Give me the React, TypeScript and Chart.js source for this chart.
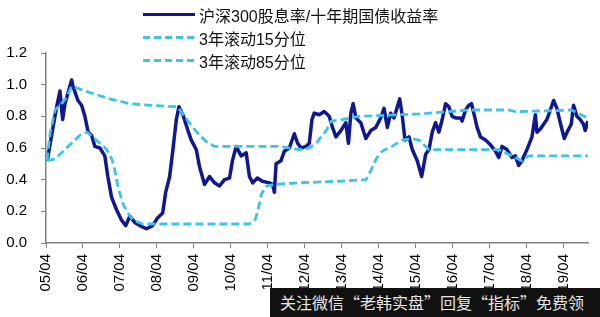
import React, { useEffect, useRef } from "react";
import { Chart, registerables } from "chart.js";

Chart.register(...registerables);

// ---- data (decimal years, values) ----
const mainYears = [
  2005.285, 2005.439, 2005.538, 2005.627, 2005.7, 2005.762, 2005.943, 2005.978, 2006.113, 2006.212,
  2006.301, 2006.39, 2006.482, 2006.571, 2006.706, 2006.84, 2006.921, 2007.021, 2007.156, 2007.29,
  2007.406, 2007.514, 2007.649, 2007.784, 2007.964, 2008.134, 2008.269, 2008.404, 2008.484, 2008.592,
  2008.681, 2008.773, 2008.843, 2008.951, 2009.086, 2009.177, 2009.312, 2009.401, 2009.536, 2009.671,
  2009.805, 2009.94, 2010.075, 2010.21, 2010.29, 2010.39, 2010.525, 2010.66, 2010.749, 2010.838,
  2010.964, 2011.099, 2011.288, 2011.377, 2011.423, 2011.468, 2011.603, 2011.692, 2011.827, 2011.962,
  2012.051, 2012.142, 2012.277, 2012.366, 2012.439, 2012.501, 2012.636, 2012.77, 2012.905, 2012.994,
  2013.086, 2013.22, 2013.355, 2013.425, 2013.49, 2013.552, 2013.625, 2013.759, 2013.894, 2014.029,
  2014.164, 2014.298, 2014.387, 2014.476, 2014.568, 2014.657, 2014.746, 2014.811, 2014.881, 2014.954,
  2015.062, 2015.15, 2015.285, 2015.404, 2015.512, 2015.601, 2015.69, 2015.781, 2015.87, 2015.959,
  2016.051, 2016.14, 2016.228, 2016.32, 2016.455, 2016.498, 2016.59, 2016.679, 2016.751, 2016.813,
  2016.902, 2016.994, 2017.129, 2017.263, 2017.398, 2017.487, 2017.576, 2017.711, 2017.846, 2017.937,
  2018.026, 2018.115, 2018.25, 2018.385, 2018.477, 2018.52, 2018.611, 2018.7, 2018.789, 2018.881,
  2018.97, 2019.059, 2019.15, 2019.258, 2019.355, 2019.447, 2019.509, 2019.598, 2019.689, 2019.778,
  2019.824, 2019.894,
];
const mainValues = [
  0.52, 0.73, 0.86, 0.96, 0.78, 0.88, 1.03, 0.99, 0.9, 0.87,
  0.8, 0.7, 0.68, 0.61, 0.6, 0.55, 0.42, 0.29, 0.21, 0.145,
  0.11, 0.17, 0.13, 0.11, 0.09, 0.11, 0.16, 0.19, 0.32, 0.42,
  0.59, 0.78, 0.86, 0.81, 0.71, 0.65, 0.59, 0.48, 0.37, 0.42,
  0.38, 0.36, 0.4, 0.41, 0.52, 0.61, 0.55, 0.57, 0.42, 0.38,
  0.41, 0.39, 0.38, 0.37, 0.32, 0.5, 0.52, 0.58, 0.6, 0.69,
  0.63, 0.6, 0.61, 0.63, 0.78, 0.82, 0.81, 0.83, 0.8, 0.73,
  0.67, 0.71, 0.76, 0.63, 0.82, 0.88, 0.79, 0.76, 0.66, 0.71,
  0.73, 0.79, 0.85, 0.73, 0.82, 0.79, 0.86, 0.91, 0.8, 0.65,
  0.67, 0.59, 0.52, 0.42, 0.56, 0.59, 0.7, 0.76, 0.7, 0.78,
  0.88, 0.86, 0.8, 0.79, 0.79, 0.77, 0.84, 0.87, 0.88, 0.82,
  0.73, 0.67, 0.65, 0.62, 0.58, 0.54, 0.61, 0.59, 0.54, 0.55,
  0.49, 0.52, 0.59, 0.67, 0.81, 0.7, 0.72, 0.75, 0.78, 0.84,
  0.9, 0.85, 0.76, 0.66, 0.71, 0.75, 0.87, 0.8, 0.78, 0.75,
  0.71, 0.77,
];

const p15Years = [
  2005.277, 2005.493, 2005.627, 2005.808, 2006.166, 2006.355, 2006.517, 2006.894, 2007.029, 2007.11,
  2007.191, 2007.325, 2007.46, 2007.595, 2007.865, 2010.749, 2010.911, 2010.991, 2011.072, 2011.207,
  2011.423, 2012.096, 2013.174, 2013.902, 2014.037, 2014.172, 2014.333, 2014.603, 2014.873, 2015.142,
  2015.331, 2015.466, 2015.601, 2017.487, 2017.757, 2018.108, 2018.296, 2019.914,
];
const p15Values = [
  0.52, 0.53, 0.56, 0.6, 0.68, 0.7, 0.67, 0.59, 0.53, 0.46,
  0.36, 0.25, 0.19, 0.145, 0.12, 0.12, 0.15, 0.22, 0.31, 0.36,
  0.37, 0.38, 0.39, 0.4, 0.46, 0.53, 0.58, 0.61, 0.65, 0.66,
  0.65, 0.62, 0.59, 0.59, 0.56, 0.52, 0.55, 0.55,
];

const p85Years = [
  2005.277, 2005.358, 2005.493, 2005.627, 2005.808, 2005.943, 2006.436, 2006.975, 2007.514, 2008.053,
  2008.808, 2008.997, 2009.185, 2009.401, 2009.59, 2009.806, 2011.557, 2012.096, 2012.366, 2012.555,
  2012.824, 2012.959, 2013.256, 2013.714, 2015.331, 2016.679, 2017.757, 2017.946, 2018.835, 2019.455,
  2019.886,
];
const p85Values = [
  0.52, 0.69, 0.84, 0.87, 0.92, 0.99, 0.95, 0.91, 0.88, 0.87,
  0.86, 0.8, 0.74, 0.68, 0.64, 0.61, 0.61, 0.59, 0.6, 0.63,
  0.71, 0.77, 0.78, 0.8, 0.815, 0.84, 0.84, 0.83, 0.835, 0.84,
  0.79,
];

const tickYears = [2005.25, 2006.25, 2007.25, 2008.25, 2009.25, 2010.25, 2011.25, 2012.25, 2013.25, 2014.25, 2015.25, 2016.25, 2017.25, 2018.25, 2019.25];
const tickLabels = ["05/04", "06/04", "07/04", "08/04", "09/04", "10/04", "11/04", "12/04", "13/04", "14/04", "15/04", "16/04", "17/04", "18/04", "19/04"];

const seriesLabels = ["沪深300股息率/十年期国债收益率", "3年滚动15分位", "3年滚动85分位"];
const MAIN_COLOR = "#0f1890";
const DASH_COLOR = "#3cc3ec";
const watermark = "关注微信“老韩实盘”回复“指标”免费领";

const pts = (xs: number[], ys: number[]) => xs.map((x, i) => ({ x, y: ys[i] }));

export default function App() {
  const ref = useRef<HTMLCanvasElement | null>(null);

  useEffect(() => {
    if (!ref.current) return;
    const font = { family: "'Liberation Sans', Arial, sans-serif", size: 15 };
    const chart = new Chart(ref.current, {
      type: "line",
      data: {
        datasets: [
          {
            label: seriesLabels[0],
            data: pts(mainYears, mainValues),
            borderColor: MAIN_COLOR,
            borderWidth: 3.5,
            order: 3,
          },
          {
            label: seriesLabels[1],
            data: pts(p15Years, p15Values),
            borderColor: DASH_COLOR,
            borderWidth: 2.8,
            borderDash: [8, 4],
            order: 2,
          },
          {
            label: seriesLabels[2],
            data: pts(p85Years, p85Values),
            borderColor: DASH_COLOR,
            borderWidth: 2.8,
            borderDash: [8, 4],
            order: 1,
          },
        ],
      },
      options: {
        animation: false,
        responsive: false,
        maintainAspectRatio: false,
        events: [],
        elements: { point: { radius: 0 }, line: { tension: 0, borderJoinStyle: "round" } },
        layout: { padding: { top: 53, right: 12, left: 0, bottom: 0 } },
        plugins: { legend: { display: false }, tooltip: { enabled: false }, title: { display: false } },
        scales: {
          x: {
            type: "linear",
            min: 2005.25,
            max: 2019.9,
            afterBuildTicks: (scale: any) => {
              scale.ticks = tickYears.map((v) => ({ value: v }));
            },
            afterFit: (scale: any) => {
              scale.height = 74;
            },
            ticks: {
              autoSkip: false,
              maxRotation: 90,
              minRotation: 90,
              padding: 6,
              color: "#000",
              font,
              callback: (_v: any, i: number) => tickLabels[i],
            },
            grid: { display: true, drawOnChartArea: false, drawTicks: true, tickLength: 5, color: "#808080", lineWidth: 1 },
            border: { display: true, color: "#808080", width: 1.5 },
          },
          y: {
            min: 0,
            max: 1.2,
            afterFit: (scale: any) => {
              scale.width = 46;
            },
            ticks: {
              stepSize: 0.2,
              padding: 14,
              color: "#000",
              font,
              callback: (v: any) => Number(v).toFixed(1),
            },
            grid: { display: true, drawOnChartArea: false, drawTicks: true, tickLength: 5, color: "#808080", lineWidth: 1 },
            border: { display: true, color: "#808080", width: 1.5 },
          },
        },
      },
    } as any);
    return () => chart.destroy();
  }, []);

  const legendFont = "'Liberation Sans', 'Noto Sans CJK SC', sans-serif";
  const rowTops = [3, 26, 49];

  return (
    <div style={{ position: "fixed", left: 0, top: 0, width: 600, height: 317, background: "#fff", overflow: "hidden" }}>
      <canvas ref={ref} width={600} height={317} style={{ position: "absolute", left: 0, top: 0, width: 600, height: 317 }} />
      {seriesLabels.map((lab, i) => (
        <div
          key={lab}
          style={{
            position: "absolute",
            left: 143,
            top: rowTops[i],
            height: 23,
            display: "flex",
            alignItems: "center",
            fontFamily: legendFont,
            fontSize: 16,
            color: "#111",
            whiteSpace: "nowrap",
          }}
        >
          <span
            style={{
              display: "inline-block",
              width: 52,
              height: 3,
              background:
                i === 0
                  ? MAIN_COLOR
                  : `repeating-linear-gradient(to right, ${DASH_COLOR} 0px, ${DASH_COLOR} 7px, transparent 7px, transparent 11px)`,
              marginRight: 4,
            }}
          />
          <span>{lab}</span>
        </div>
      ))}
      <div
        style={{
          position: "absolute",
          left: 270,
          top: 288,
          width: 330,
          height: 29,
          background: "#111",
          color: "#e6e6e6",
          fontFamily: "'Noto Sans CJK SC', sans-serif",
          fontSize: 16,
          lineHeight: "29px",
          paddingLeft: 10,
          whiteSpace: "nowrap",
          overflow: "hidden",
          boxSizing: "border-box",
        }}
      >
        {watermark}
      </div>
    </div>
  );
}
